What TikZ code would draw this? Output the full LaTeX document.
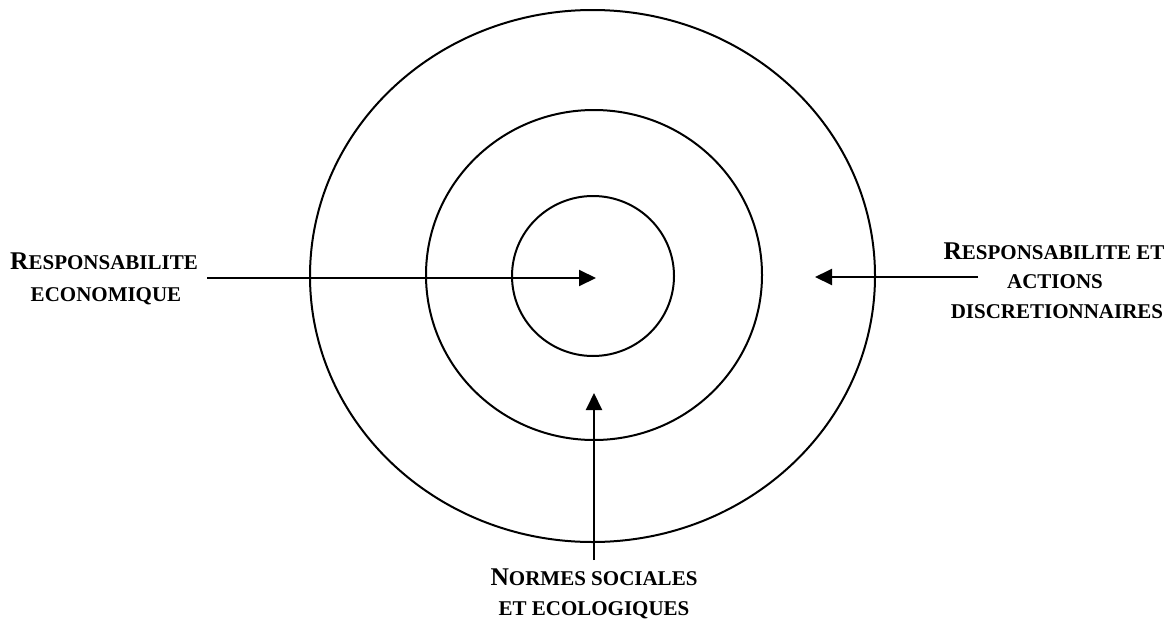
\documentclass[tikz,border=0pt]{standalone}
\usepackage{fontspec}
\setmainfont{Liberation Serif}
\usetikzlibrary{arrows.meta}
\newcommand\capbig[1]{{\fontsize{25.5}{30}\selectfont #1}}
\newcommand\capsmall[1]{{\fontsize{21}{30}\selectfont #1}}
\tikzset{
  ring/.style={line width=2pt},
  arr/.style={line width=2pt,-{Triangle[length=17pt,width=16pt]}},
  lbl/.style={anchor=base,inner sep=0pt,font=\bfseries}
}
\begin{document}
\begin{tikzpicture}[x=1pt,y=-1pt]
\useasboundingbox (0,0) rectangle (1175,621);
% rings
\draw[ring] (592.5,276) ellipse [x radius=282.5, y radius=266];
\draw[ring] (594,275) ellipse [x radius=168, y radius=165];
\draw[ring] (593,276) ellipse [x radius=81, y radius=80];
% labels
\node[lbl] (l1) at (104,269) {\capbig{R}\capsmall{ESPONSABILITE}};
\node[lbl] (l2) at (106,301) {\capsmall{ECONOMIQUE}};
\node[lbl] (r1) at (1054,259) {\capbig{R}\capsmall{ESPONSABILITE ET}};
\node[lbl] (r2) at (1055,288) {\capsmall{ACTIONS}};
\node[lbl] (r3) at (1057,318) {\capsmall{DISCRETIONNAIRES}};
\node[lbl] (b1) at (594,585) {\capbig{N}\capsmall{ORMES SOCIALES}};
\node[lbl] (b2) at (594,615) {\capsmall{ET ECOLOGIQUES}};
% arrow ends
\coordinate (la) at (207,278);
\coordinate (lt) at (596,278);
\coordinate (ra) at (978,277);
\coordinate (rt) at (815,277);
\coordinate (ba) at (594,560);
\coordinate (bt) at (594,393);
\draw[arr] (la) -- (lt);
\draw[arr] (ra) -- (rt);
\draw[arr] (ba) -- (bt);
\end{tikzpicture}
\end{document}
